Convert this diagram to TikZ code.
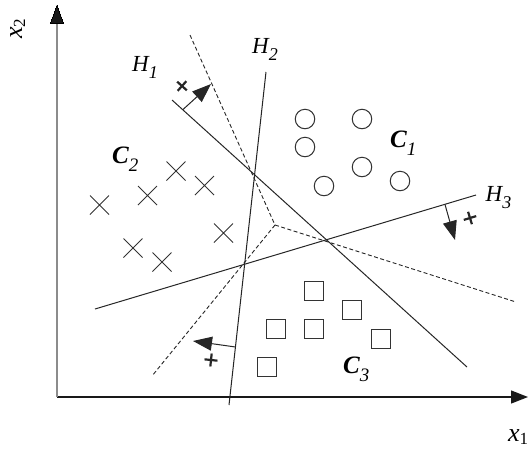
\documentclass[tikz,border=0pt]{standalone}
\usepackage{fontspec}
\setmainfont{Liberation Serif}
\usetikzlibrary{arrows.meta,shapes.misc}
\newcommand\mysub[3]{\raisebox{-#1}{\fontsize{#2}{#2}\selectfont #3}}
\begin{document}
\begin{tikzpicture}[x=1pt,y=-1pt,
  lbl/.style={font=\fontsize{23}{26}\selectfont\itshape, inner sep=0, anchor=base west},
  axl/.style={font=\fontsize{26}{28}\selectfont, inner sep=0, anchor=base west},
  cls/.style={font=\fontsize{25}{28}\selectfont\bfseries\itshape, inner sep=0, anchor=base west},
  hyp/.style={line width=1pt, draw=black!85},
  bnd/.style={line width=0.9pt, dash pattern=on 4pt off 2.5pt, draw=black!85},
  nrm/.style={line width=1pt, draw=black!85, -{Triangle[length=19pt,width=14pt]}},
  circ/.style={circle, draw=black!80, line width=1pt, minimum size=19.5pt, inner sep=0},
  sq/.style={rectangle, draw=black!80, line width=1pt, minimum size=19pt, inner sep=0},
  crs/.style={cross out, draw=black!80, line width=1pt, minimum size=19pt, inner sep=0, outer sep=0},
  plussign/.pic={\draw[line width=2.2pt, black!85] (-6.5,0)--(6.5,0) (0,-6.5)--(0,6.5);}
]
\useasboundingbox (0,0) rectangle (528,451);

% axes
\coordinate (O) at (57,397);
\coordinate (X) at (528,397);
\coordinate (Y) at (57,5);
\draw[line width=1.3pt, black!90, -{Triangle[length=17pt,width=13pt]}] (O) -- (X);
\draw[line width=1.5pt, black!45] (O) -- (57,22);
\draw[line width=0pt, fill=black!90] (Y) -- (63.5,23) -- (50.5,23) -- cycle;
\node[axl, rotate=90] (x2) at (22,39) {\textit{x}\mysub{3pt}{17}{2}};
\node[axl] (x1) at (508,441) {\textit{x}\mysub{3pt}{17}{1}};

% hyperplanes
\coordinate (h1a) at (172,100);
\coordinate (h1b) at (467,367);
\coordinate (h2a) at (266,72);
\coordinate (h2b) at (229,405);
\coordinate (h3a) at (95,309);
\coordinate (h3b) at (476,195);
\draw[hyp] (h1a) -- (h1b);
\draw[hyp] (h2a) -- (h2b);
\draw[hyp] (h3a) -- (h3b);
\node[lbl] (H1) at (132,71.5) {H\mysub{7pt}{18}{1}};
\node[lbl] (H2) at (252,53.5) {H\mysub{7pt}{18}{2}};
\node[lbl] (H3) at (485.5,201.5) {H\mysub{7pt}{18}{3}};

% decision boundaries (dashed)
\coordinate (J) at (275,225);
\coordinate (d1) at (190,35);
\coordinate (d2) at (516,302);
\coordinate (d3) at (152,376);
\draw[bnd] (d1) -- (J);
\draw[bnd] (J) -- (d2);
\draw[bnd] (J) -- (d3);

% normal arrows
\coordinate (n1a) at (183,109.5);
\coordinate (n1b) at (211,84);
\coordinate (n2a) at (235.5,347);
\coordinate (n2b) at (193,341);
\coordinate (n3a) at (445,204.5);
\coordinate (n3b) at (455,240);
\draw[nrm] (n1a) -- (n1b);
\draw[nrm] (n2a) -- (n2b);
\draw[nrm] (n3a) -- (n3b);
\pic[rotate=-42] (p1) at (182,86) {plussign};
\pic[rotate=-6] (p2) at (211,360) {plussign};
\pic[rotate=17] (p3) at (470,218) {plussign};

% class 1: circles
\node[circ] (c1) at (305,119) {};
\node[circ] (c2) at (362,119) {};
\node[circ] (c3) at (305,147) {};
\node[circ] (c4) at (362,167) {};
\node[circ] (c5) at (324,186) {};
\node[circ] (c6) at (400,181) {};
\node[cls] (C1) at (390,147) {C\mysub{8pt}{19}{\mdseries 1}};

% class 2: crosses
\node[crs] (x1a) at (99.5,205) {};
\node[crs] (x2a) at (147.5,195.5) {};
\node[crs] (x3a) at (176,171) {};
\node[crs] (x4a) at (204.5,185.5) {};
\node[crs] (x5a) at (133,248) {};
\node[crs] (x6a) at (162,262) {};
\node[crs] (x7a) at (223.5,233) {};
\node[cls] (C2) at (112,163) {C\mysub{8pt}{19}{\mdseries 2}};

% class 3: squares
\node[sq] (s1) at (314,290.5) {};
\node[sq] (s2) at (352,310) {};
\node[sq] (s3) at (276,329) {};
\node[sq] (s4) at (314,329) {};
\node[sq] (s5) at (381,339) {};
\node[sq] (s6) at (266.5,366.5) {};
\node[cls] (C3) at (343,373) {C\mysub{8pt}{19}{\mdseries 3}};
\end{tikzpicture}
\end{document}
